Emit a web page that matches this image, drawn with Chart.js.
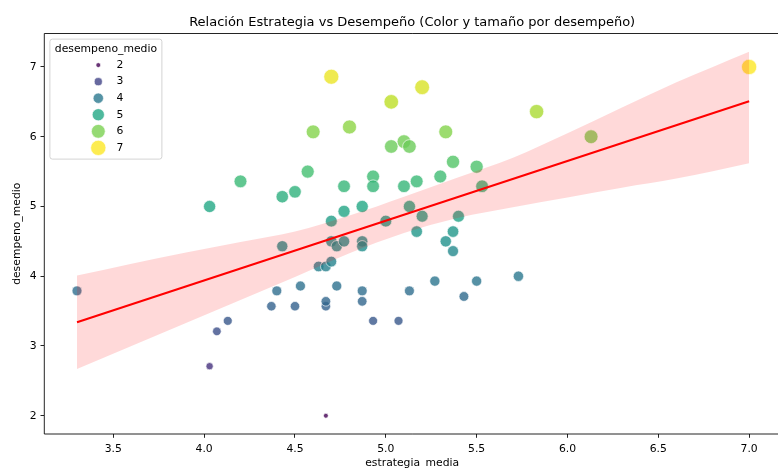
<!DOCTYPE html>
<html><head><meta charset="utf-8">
<script src="https://cdn.jsdelivr.net/npm/chart.js@4.4.1/dist/chart.umd.min.js"></script>
<style>
html,body{margin:0;padding:0;background:#fff;overflow:hidden;}
#wrap{width:778px;height:468px;overflow:hidden;position:relative;background:#fff;}
canvas{display:block;}
</style></head><body>
<div id="wrap"><canvas id="c" width="820" height="480"></canvas></div>
<script>
// ---- data ----
const estrategia = [3.30,4.03,4.07,4.13,4.03,4.20,4.43,4.43,4.37,4.40,4.50,4.50,4.53,4.57,4.60,4.63,4.67,4.67,4.67,4.67,4.70,4.70,4.70,4.70,4.73,4.73,4.77,4.77,4.77,4.80,4.87,4.87,4.87,4.87,4.87,4.93,4.93,4.93,5.00,5.03,5.03,5.07,5.10,5.10,5.13,5.13,5.13,5.17,5.17,5.20,5.20,5.27,5.30,5.33,5.33,5.37,5.37,5.37,5.40,5.43,5.50,5.50,5.53,5.73,5.83,6.13,7.00];
const desempeno = [3.79,2.71,3.21,3.36,5.00,5.36,5.14,4.43,3.57,3.79,5.21,3.57,3.86,5.50,6.07,4.14,3.57,3.64,4.14,2.00,6.86,4.50,4.21,4.79,3.86,4.43,4.50,4.93,5.29,6.14,5.00,4.50,4.43,3.79,3.64,3.36,5.43,5.29,4.79,6.50,5.86,3.36,5.93,5.29,5.86,5.00,3.79,5.36,4.64,6.71,4.86,3.93,5.43,6.07,4.50,5.64,4.64,4.36,4.86,3.71,5.57,3.93,5.29,4.00,6.36,6.00,7.00];
const fitX = [3.3, 7.0];
const fitY = [3.34, 6.51];
const bandX = [3.3,3.6,3.9,4.2,4.5,4.8,5.1,5.4,5.7,6.0,6.3,6.6,7.0];
const bandUpper = [4.01,4.18,4.34,4.49,4.64,4.87,5.14,5.42,5.70,6.05,6.42,6.78,7.22];
const bandLower = [2.67,3.00,3.33,3.66,3.99,4.33,4.62,4.84,4.99,5.13,5.27,5.40,5.62];
const legendValues = [2,3,4,5,6,7];
const xTicks = [3.5,4.0,4.5,5.0,5.5,6.0,6.5,7.0];
const yTicks = [2,3,4,5,6,7];
const titleText = 'Relación Estrategia vs Desempeño (Color y tamaño por desempeño)';
const xLabel = 'estrategia_media';
const yLabel = 'desempeno_medio';
const legendTitle = 'desempeno_medio';

// ---- styling helpers ----
const FONT = "'DejaVu Sans', 'Liberation Sans', sans-serif";
const VIR = ['#440154','#482475','#414487','#355f8d','#2a788e','#21918c','#22a884','#44bf70','#7ad151','#bddf26','#fde725'];
const hexRgb = h => [parseInt(h.slice(1,3),16),parseInt(h.slice(3,5),16),parseInt(h.slice(5,7),16)];
const vMin = Math.min(...desempeno), vMax = Math.max(...desempeno);
function viridis(v, a) {
  let t = (v - vMin) / (vMax - vMin); t = Math.max(0, Math.min(1, t));
  const p = t * 10, i = Math.min(9, Math.floor(p)), f = p - i;
  const c0 = hexRgb(VIR[i]), c1 = hexRgb(VIR[i+1]);
  const c = c0.map((c, k) => Math.round(c + (c1[k]-c) * f));
  return `rgba(${c[0]},${c[1]},${c[2]},${a})`;
}
const SCALE = 1.08; // pt -> px
function radiusFor(v) {
  const s = 20 + (v - vMin) / (vMax - vMin) * 180; // area in pt^2
  return Math.sqrt(s) / 2 * SCALE;
}

const frameAndLegend = {
  id: 'frameAndLegend',
  afterDraw(chart) {
    const {ctx, chartArea: a} = chart;
    ctx.save();
    // frame: left, top, bottom spines (right spine lies beyond the visible picture)
    ctx.strokeStyle = '#000'; ctx.lineWidth = 0.86;
    ctx.beginPath();
    ctx.moveTo(a.right, a.top); ctx.lineTo(a.left, a.top);
    ctx.lineTo(a.left, a.bottom); ctx.lineTo(a.right, a.bottom);
    ctx.stroke();
    // legend
    const L = a.left + 5.6, T = a.top + 5.6, W = 112, H = 120;
    ctx.beginPath();
    ctx.roundRect(L, T, W, H, 2.5);
    ctx.fillStyle = 'rgba(255,255,255,0.8)'; ctx.fill();
    ctx.strokeStyle = '#cccccc'; ctx.lineWidth = 0.86; ctx.stroke();
    ctx.font = `10.8px ${FONT}`;
    ctx.fillStyle = '#000'; ctx.textBaseline = 'middle';
    ctx.textAlign = 'center';
    ctx.fillText(legendTitle, L + W/2, T + 9.6);
    legendValues.forEach((v, i) => {
      const y = T + 26 + i * 16.55;
      ctx.beginPath();
      ctx.arc(L + 48.4, y, radiusFor(v), 0, Math.PI*2);
      ctx.fillStyle = viridis(v, 0.8); ctx.fill();
      ctx.strokeStyle = 'rgba(255,255,255,0.8)'; ctx.lineWidth = 0.8; ctx.stroke();
      ctx.fillStyle = '#000'; ctx.textAlign = 'left';
      ctx.fillText(String(v), L + 66.6, y);
    });
    ctx.restore();
  }
};

const pts = estrategia.map((x, i) => ({x, y: desempeno[i]}));
const tickCommon = {font: {family: FONT, size: 10.8}, color: '#000'};
const gridCommon = {drawOnChartArea: false, drawTicks: true, tickLength: 3.8, tickColor: '#000', tickWidth: 0.86, lineWidth: 0.86, color: '#000'};

new Chart(document.getElementById('c'), {
  data: {
    datasets: [
      {
        type: 'scatter', data: pts, order: 4,
        pointRadius: ctx => radiusFor(desempeno[ctx.dataIndex]),
        pointBackgroundColor: ctx => viridis(desempeno[ctx.dataIndex], 0.8),
        pointBorderColor: 'rgba(255,255,255,0.8)', pointBorderWidth: 0.8,
        pointHoverRadius: ctx => radiusFor(desempeno[ctx.dataIndex])
      },
      {
        type: 'line', data: bandX.map((x, i) => ({x, y: bandUpper[i]})), order: 3,
        fill: '+1', backgroundColor: 'rgba(255,0,0,0.15)', borderColor: 'rgba(0,0,0,0)', borderWidth: 0, pointRadius: 0,
        cubicInterpolationMode: 'monotone'
      },
      {
        type: 'line', data: bandX.map((x, i) => ({x, y: bandLower[i]})), order: 3,
        fill: false, borderColor: 'rgba(0,0,0,0)', borderWidth: 0, pointRadius: 0, cubicInterpolationMode: 'monotone'
      },
      {
        type: 'line', data: fitX.map((x, i) => ({x, y: fitY[i]})), order: 1,
        borderColor: '#ff0000', borderWidth: 2.16, pointRadius: 0, fill: false
      }
    ]
  },
  options: {
    responsive: false, animation: false, devicePixelRatio: 1, events: [],
    layout: {padding: {left: 0, top: 0, right: 40, bottom: 8}},
    plugins: {
      legend: {display: false}, tooltip: {enabled: false},
      title: {display: true, text: titleText, fullSize: false, color: '#000', align: 'center',
        font: {family: FONT, size: 13, weight: 'normal'}, padding: {top: 14.6, bottom: 3.3}}
    },
    scales: {
      x: {
        type: 'linear', min: 3.12, max: 7.17,
        afterBuildTicks: s => { s.ticks = xTicks.map(v => ({value: v})); },
        afterFit: s => { s.height = 38; },
        ticks: {...tickCommon, padding: 5, maxRotation: 0, callback: v => Number(v).toFixed(1)},
        grid: gridCommon, border: {display: false},
        title: {display: true, text: xLabel, color: '#000', font: {family: FONT, size: 10.8}, padding: {top: 0, bottom: 2.5}}
      },
      y: {
        type: 'linear', min: 1.738, max: 7.48,
        afterBuildTicks: s => { s.ticks = yTicks.map(v => ({value: v})); },
        afterFit: s => { s.width = 44.3; },
        ticks: {...tickCommon, padding: 4, callback: v => String(v)},
        grid: gridCommon, border: {display: false},
        title: {display: true, text: yLabel, color: '#000', font: {family: FONT, size: 10.8}, padding: {top: 10.5, bottom: 0}}
      }
    }
  },
  plugins: [frameAndLegend]
});
</script>
</body></html>
